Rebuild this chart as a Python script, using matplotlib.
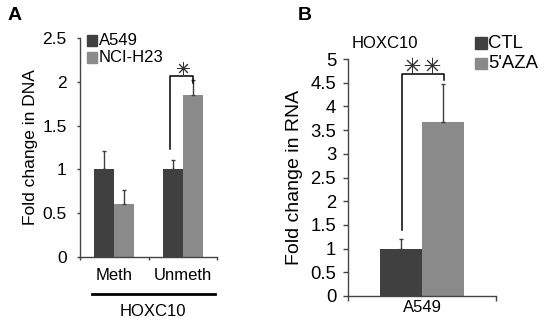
import numpy as np
import matplotlib
matplotlib.use("Agg")
import matplotlib.pyplot as plt
from matplotlib.patches import Rectangle
from matplotlib.lines import Line2D

plt.rcParams['font.family'] = ['Liberation Sans', 'DejaVu Sans']

# ---- data ----
groups_a = ['Meth', 'Unmeth']
a549_dna = [1.0, 1.0]
a549_dna_err = [0.21, 0.11]
h23_dna = [0.6, 1.85]
h23_dna_err = [0.17, 0.17]
series_a = ['A549', 'NCI-H23']
yticks_a = [0, 0.5, 1, 1.5, 2, 2.5]
ytick_labels_a = ['0', '0.5', '1', '1.5', '2', '2.5']

groups_b = ['A549']
ctl_rna = [1.0]
ctl_rna_err = [0.21]
aza_rna = [3.68]
aza_rna_err = [0.79]
series_b = ['CTL', "5'AZA"]
yticks_b = [0, 0.5, 1, 1.5, 2, 2.5, 3, 3.5, 4, 4.5, 5]
ytick_labels_b = ['0', '0.5', '1', '1.5', '2', '2.5', '3', '3.5', '4', '4.5', '5']

DARK = '#404040'
LIGHT = '#8a8a8a'
AXC = '#444444'

W, H = 545, 323
fig = plt.figure(figsize=(W / 100, H / 100), dpi=100)

def fx(px):
    return px / W

def fy(py):
    return 1 - py / H

def style_axes(ax, ticklen):
    for s in ['top', 'right']:
        ax.spines[s].set_visible(False)
    for s in ['left', 'bottom']:
        ax.spines[s].set_color(AXC)
        ax.spines[s].set_linewidth(1.0)
    ax.tick_params(axis='both', which='major', direction='out', length=ticklen,
                   color=AXC, width=1.0)
    ax.tick_params(axis='x', which='minor', length=0)

def star(ax, x, y, size):
    ax.plot([x], [y], linestyle='none', marker=(8, 2, 0), ms=size, mew=0.7,
            color='#333333', clip_on=False)

# ---- Panel A ----
axA = fig.add_axes([fx(80), fy(257), fx(217) - fx(80), fy(38) - fy(257)])
xa = np.arange(len(groups_a))
wa = 0.29
axA.bar(xa - wa / 2, a549_dna, wa, color=DARK, label=series_a[0])
axA.bar(xa + wa / 2, h23_dna, wa, color=LIGHT, label=series_a[1])
axA.errorbar(xa - wa / 2, a549_dna, yerr=[np.zeros(2), a549_dna_err], fmt='none',
             ecolor=DARK, elinewidth=1, capsize=1.5)
axA.errorbar(xa + wa / 2, h23_dna, yerr=[np.zeros(2), h23_dna_err], fmt='none',
             ecolor=DARK, elinewidth=1, capsize=1.5)
axA.set_xlim(-0.5, 1.5)
axA.set_ylim(0, 2.5)
axA.set_yticks(yticks_a)
axA.set_yticklabels(ytick_labels_a, fontsize=12.5)
axA.set_xticks([-0.5, 0.5, 1.5])
axA.set_xticklabels([])
axA.set_xticks(xa, minor=True)
axA.set_xticklabels(groups_a, minor=True, fontsize=12)
style_axes(axA, 2.5)
axA.tick_params(axis='y', pad=7)
axA.tick_params(axis='x', which='minor', pad=8)
axA.set_ylabel('Fold change in DNA', fontsize=12.5, labelpad=3)

# significance bracket A
xl = xa[1] - wa / 2 - 0.04
xr = xa[1] + wa / 2
axA.plot([xl, xl, xr, xr], [1.23, 2.07, 2.07, 1.99], color='black', lw=1.1)
star(axA, xa[1], 2.16, 9)

# legend A
for i, (lab, col) in enumerate(zip(series_a, [DARK, LIGHT])):
    y0 = 35 + i * 17.5
    fig.patches.append(Rectangle((fx(87), fy(y0 + 10.5)), fx(10), fy(0) - fy(10.5),
                                 transform=fig.transFigure, color=col))
    fig.text(fx(99), fy(y0 + 5.5), lab, fontsize=12, va='center', ha='left')

# group line + label
fig.add_artist(Line2D([fx(92), fx(215)], [fy(294), fy(294)], color='black', lw=2,
                      transform=fig.transFigure))
fig.text(fx(153), fy(312), 'HOXC10', fontsize=12, ha='center', va='center')
fig.text(fx(15), fy(15), 'A', fontsize=14, fontweight='bold', ha='center', va='center')

# ---- Panel B ----
axB = fig.add_axes([fx(348), fy(296), fx(496) - fx(348), fy(59) - fy(296)])
xb = np.arange(len(groups_b))
wb = 0.284
axB.bar(xb - wb / 2, ctl_rna, wb, color=DARK, label=series_b[0])
axB.bar(xb + wb / 2, aza_rna, wb, color=LIGHT, label=series_b[1])
axB.errorbar(xb - wb / 2, ctl_rna, yerr=[np.zeros(1), ctl_rna_err], fmt='none',
             ecolor=DARK, elinewidth=1, capsize=1.5)
axB.errorbar(xb + wb / 2, aza_rna, yerr=[np.zeros(1), aza_rna_err], fmt='none',
             ecolor=DARK, elinewidth=1, capsize=1.5)
axB.set_xlim(-0.5, 0.5)
axB.set_ylim(0, 5)
axB.set_yticks(yticks_b)
axB.set_yticklabels(ytick_labels_b, fontsize=13.3)
axB.set_xticks([-0.5, 0.5])
axB.set_xticklabels([])
axB.set_xticks(xb, minor=True)
axB.set_xticklabels(groups_b, minor=True, fontsize=12)
style_axes(axB, 3.5)
axB.tick_params(axis='y', pad=5)
axB.tick_params(axis='x', which='minor', pad=3)
axB.set_ylabel('Fold change in RNA', fontsize=14, labelpad=5)

xl = xb[0] - wb / 2 + 0.01
xr = xb[0] + wb / 2 + 0.01
axB.plot([xl, xl, xr, xr], [1.39, 4.68, 4.68, 4.55], color='black', lw=1.1)
star(axB, xb[0] - 0.068, 4.87, 11)
star(axB, xb[0] + 0.068, 4.87, 11)
fig.text(fx(352), fy(43), 'HOXC10', fontsize=12, ha='left', va='center')

for i, (lab, col) in enumerate(zip(series_b, [DARK, LIGHT])):
    y0 = 37 + i * 20.5
    fig.patches.append(Rectangle((fx(475), fy(y0 + 11.5)), fx(12), fy(0) - fy(11.5),
                                 transform=fig.transFigure, color=col))
    fig.text(fx(488), fy(y0 + 6), lab, fontsize=13.3, va='center', ha='left')

fig.text(fx(305), fy(15), 'B', fontsize=14, fontweight='bold', ha='center', va='center')

fig.savefig('out.png', dpi=100)
